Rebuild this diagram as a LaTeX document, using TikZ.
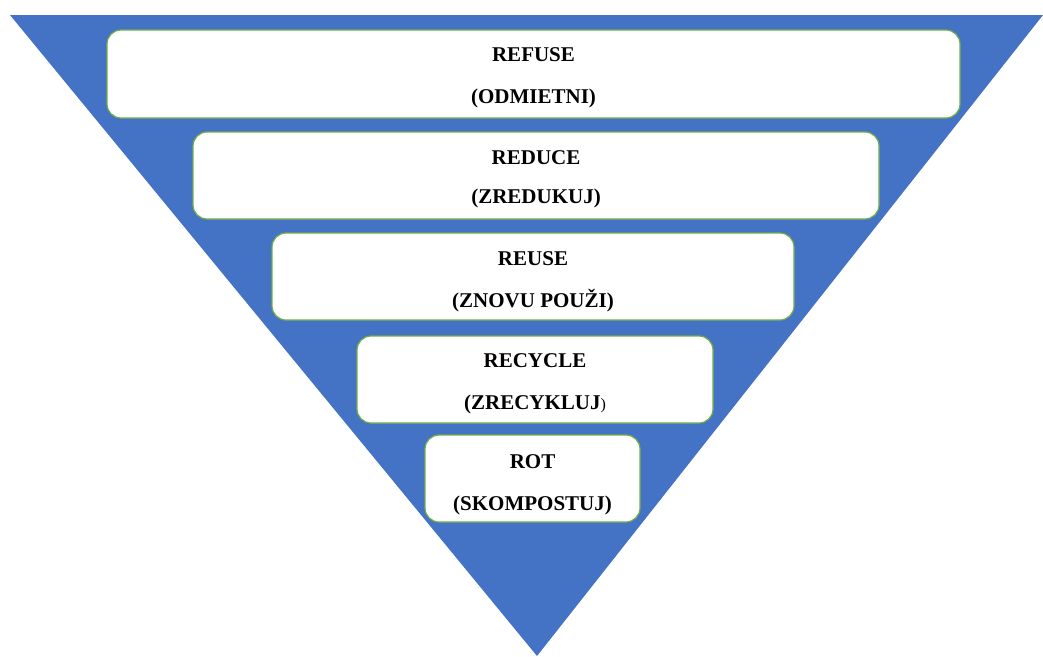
\documentclass[tikz,border=0pt]{standalone}
\usepackage{fontspec}
\setmainfont{Liberation Serif}
\definecolor{triblue}{HTML}{4472C4}
\definecolor{boxgreen}{HTML}{70AD47}
\begin{document}
\begin{tikzpicture}[x=1pt,y=-1pt,
  tier/.style={draw=boxgreen,line width=1.2pt,fill=white,rounded corners=14pt},
  lbl/.style={font=\fontsize{21}{24}\selectfont\bfseries,anchor=center,inner sep=0pt}]
\useasboundingbox (0,0) rectangle (1043,656);
\fill[triblue] (10,15) -- (1043,15) -- (537,656) -- cycle;
\draw[tier] (107,30) rectangle (960,118);
\node[lbl] (t1a) at (533.5,55) {REFUSE};
\node[lbl] (t1b) at (533.5,98) {(ODMIETNI)};
\draw[tier] (193,132) rectangle (879,219);
\node[lbl] (t2a) at (536,158) {REDUCE};
\node[lbl] (t2b) at (536,198) {(ZREDUKUJ)};
\draw[tier] (272,233) rectangle (794,320);
\node[lbl] (t3a) at (533,259) {REUSE};
\node[lbl] (t3b) at (533,301) {(ZNOVU POUŽI)};
\draw[tier] (357,336) rectangle (713,423);
\node[lbl] (t4a) at (535,361) {RECYCLE};
\node[lbl] (t4b) at (535,404) {(ZRECYKLUJ{\mdseries\fontsize{16}{18}\selectfont)}};
\draw[tier] (425,435) rectangle (640,522);
\node[lbl] (t5a) at (532.5,462) {ROT};
\node[lbl] (t5b) at (532.5,505) {(SKOMPOSTUJ)};
\end{tikzpicture}
\end{document}
